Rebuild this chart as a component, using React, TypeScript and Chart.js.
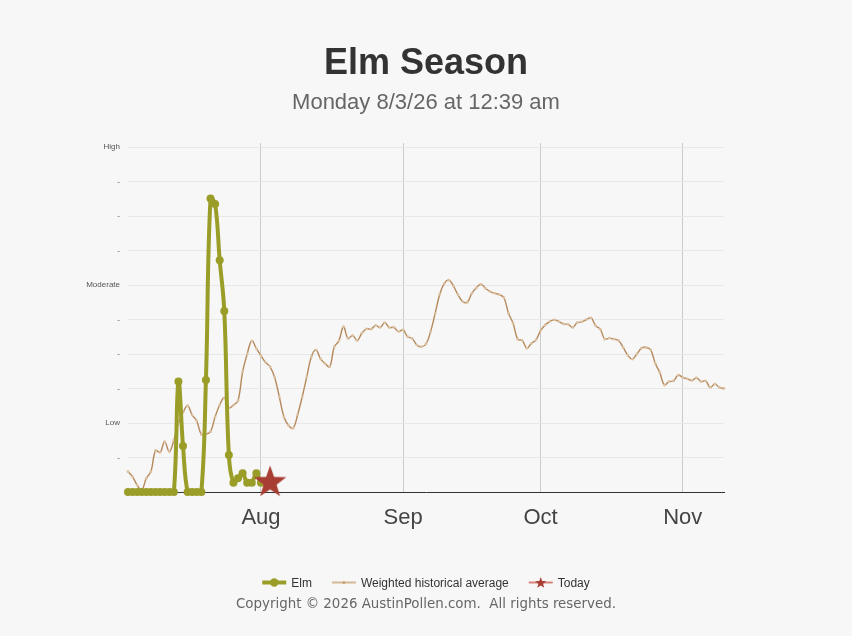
import React, { useEffect, useRef } from 'react';
import { Chart, registerables } from 'chart.js';

Chart.register(...registerables);

// ---------- data ----------
const TITLE = 'Elm Season';
const SUBTITLE = 'Monday 8/3/26 at 12:39 am';
const COPYRIGHT = 'Copyright \u00A9 2026 AustinPollen.com.  All rights reserved.';

const START_YEAR = 2026;
const START_MONTH = 6; // July (0-based)
const START_DAY = 3;
const TODAY_MONTH = 7; // August
const TODAY_DAY = 3;

const MONTH_NAMES = ['Jan', 'Feb', 'Mar', 'Apr', 'May', 'Jun', 'Jul', 'Aug', 'Sep', 'Oct', 'Nov', 'Dec'];
const Y_TICK_LABELS = ['', '-', 'Low', '-', '-', '-', 'Moderate', '-', '-', '-', 'High'];
const LEGEND_LABELS = ['Elm', 'Weighted historical average', 'Today'];

const ELM_VALUES = [
  0, 0, 0, 0, 0, 0, 0, 0, 0, 0, 0,
  3.2, 1.33,
  0, 0, 0, 0,
  3.25, 8.51, 8.35, 6.72, 5.25, 1.07,
  0.27, 0.4, 0.54, 0.27, 0.27, 0.54, 0.27, 0.3, 0.3,
];

const HISTORICAL_VALUES = [
  0.59, 0.44, 0.2, 0.06, 0.4, 0.59, 1.2, 1.15, 1.46, 1.17,
  1.5, 2.0, 2.3, 2.5, 2.23, 2.06, 1.67, 1.68, 1.75, 2.18,
  2.52, 2.73, 2.44, 2.52, 2.65, 3.49, 4.0, 4.38, 4.16, 3.95,
  3.76, 3.63, 3.32, 2.76, 2.18, 1.93, 1.85, 2.24, 2.76, 3.34,
  3.92, 4.12, 3.86, 3.72, 3.63, 4.21, 4.38, 4.79, 4.45, 4.54,
  4.39, 4.6, 4.73, 4.72, 4.83, 4.77, 4.91, 4.77, 4.77, 4.65,
  4.7, 4.5, 4.45, 4.26, 4.21, 4.29, 4.65, 5.18, 5.73, 6.05,
  6.14, 5.97, 5.71, 5.52, 5.5, 5.76, 5.92, 6.02, 5.9, 5.81,
  5.76, 5.72, 5.63, 5.18, 4.89, 4.43, 4.39, 4.17, 4.31, 4.41,
  4.68, 4.84, 4.94, 4.99, 4.94, 4.87, 4.86, 4.77, 4.91, 4.93,
  5.0, 5.05, 4.82, 4.72, 4.43, 4.46, 4.43, 4.39, 4.19, 3.97,
  3.85, 4.0, 4.17, 4.19, 4.12, 3.73, 3.46, 3.1, 3.2, 3.22,
  3.39, 3.32, 3.28, 3.23, 3.31, 3.2, 3.22, 3.03, 3.13, 3.03,
  3.0,
];

// ---------- helpers ----------
const dateAt = (i: number) => new Date(START_YEAR, START_MONTH, START_DAY + i);
const DAY_MS = 24 * 3600 * 1000;
const TODAY_INDEX = Math.round(
  (new Date(START_YEAR, TODAY_MONTH, TODAY_DAY).getTime() - dateAt(0).getTime()) / DAY_MS
);
const MONTH_START_INDICES = HISTORICAL_VALUES.map((_, i) => i).filter((i) => dateAt(i).getDate() === 1);

const ELM_COLOR = '#9a9e28';
const HIST_COLOR = '#b5895c';
const HIST_POINT = '#dcc2a2';
const STAR_COLOR = '#a83d33';
const FONT = '"Liberation Sans", Arial, Helvetica, sans-serif';

function starPath(ctx: CanvasRenderingContext2D, cx: number, cy: number, R: number, r: number) {
  ctx.beginPath();
  for (let k = 0; k < 10; k++) {
    const rad = k % 2 === 0 ? R : r;
    const a = -Math.PI / 2 + (k * Math.PI) / 5;
    const x = cx + rad * Math.cos(a);
    const y = cy + rad * Math.sin(a);
    if (k === 0) ctx.moveTo(x, y);
    else ctx.lineTo(x, y);
  }
  ctx.closePath();
}

function makeStar(R: number, color: string) {
  const size = Math.ceil(R * 2 + 2);
  const c = document.createElement('canvas');
  c.width = size;
  c.height = size;
  const ctx = c.getContext('2d')!;
  ctx.fillStyle = color;
  starPath(ctx, size / 2, size / 2 + R * 0.05, R, R * 0.4);
  ctx.fill();
  return c;
}

const decorPlugin = {
  id: 'decor',
  afterDraw(chart: any) {
    const ctx: CanvasRenderingContext2D = chart.ctx;
    const W = chart.width;
    const cx = W / 2;
    ctx.save();
    ctx.textAlign = 'center';
    ctx.textBaseline = 'alphabetic';
    ctx.fillStyle = '#333333';
    ctx.font = `bold 36px ${FONT}`;
    ctx.fillText(TITLE, cx, 74);
    ctx.fillStyle = '#666666';
    ctx.font = `22px ${FONT}`;
    ctx.fillText(SUBTITLE, cx, 108.5);

    // legend
    ctx.font = `12px ${FONT}`;
    const symW = 24;
    const gapT = 5;
    const gapItem = 20;
    const widths = LEGEND_LABELS.map((t) => symW + gapT + ctx.measureText(t).width);
    const total = widths.reduce((a, b) => a + b, 0) + gapItem * (widths.length - 1);
    let x = cx - total / 2;
    const ly = 582.5;
    LEGEND_LABELS.forEach((label, idx) => {
      ctx.save();
      if (idx === 0) {
        ctx.strokeStyle = ELM_COLOR;
        ctx.lineWidth = 4;
        ctx.beginPath();
        ctx.moveTo(x, ly);
        ctx.lineTo(x + symW, ly);
        ctx.stroke();
        ctx.fillStyle = ELM_COLOR;
        ctx.beginPath();
        ctx.arc(x + symW / 2, ly, 4.2, 0, Math.PI * 2);
        ctx.fill();
      } else if (idx === 1) {
        ctx.strokeStyle = '#d4b894';
        ctx.lineWidth = 2;
        ctx.beginPath();
        ctx.moveTo(x, ly);
        ctx.lineTo(x + symW, ly);
        ctx.stroke();
        ctx.fillStyle = '#caa57c';
        ctx.beginPath();
        ctx.arc(x + symW / 2, ly, 1.6, 0, Math.PI * 2);
        ctx.fill();
      } else {
        ctx.strokeStyle = '#d7857a';
        ctx.lineWidth = 2;
        ctx.beginPath();
        ctx.moveTo(x, ly);
        ctx.lineTo(x + symW, ly);
        ctx.stroke();
        ctx.fillStyle = STAR_COLOR;
        starPath(ctx, x + symW / 2, ly + 0.5, 6, 2.4);
        ctx.fill();
      }
      ctx.restore();
      ctx.fillStyle = '#333333';
      ctx.textAlign = 'left';
      ctx.fillText(label, x + symW + gapT, ly + 4.3);
      x += widths[idx] + gapItem;
    });

    // copyright
    ctx.textAlign = 'center';
    ctx.fillStyle = '#666666';
    ctx.font = '13.4px "DejaVu Sans", Verdana, sans-serif';
    ctx.fillText(COPYRIGHT, cx, 607.5);
    ctx.restore();
  },
};

export default function App() {
  const ref = useRef<HTMLCanvasElement | null>(null);

  useEffect(() => {
    document.body.style.margin = '0';
    document.body.style.background = '#f7f7f7';
    const canvas = ref.current;
    if (!canvas) return;

    const elmPoints = ELM_VALUES.map((v, i) => ({ x: i, y: v }));
    const histPoints = HISTORICAL_VALUES.map((v, i) => ({ x: i, y: v }));
    const todayPoints = [{ x: TODAY_INDEX, y: ELM_VALUES[TODAY_INDEX] }];
    const star = makeStar(17, STAR_COLOR);

    const chart = new Chart(canvas, {
      type: 'line',
      data: {
        datasets: [
          {
            label: LEGEND_LABELS[2],
            data: todayPoints,
            showLine: false,
            pointStyle: star as any,
            pointRadius: 17,
            clip: false as any,
            order: 0,
          },
          {
            label: LEGEND_LABELS[0],
            data: elmPoints,
            borderColor: ELM_COLOR,
            backgroundColor: ELM_COLOR,
            borderWidth: 4,
            pointRadius: 4,
            pointBorderWidth: 0,
            pointBackgroundColor: ELM_COLOR,
            tension: 0.4,
            clip: false as any,
            order: 1,
          },
          {
            label: LEGEND_LABELS[1],
            data: histPoints,
            borderColor: HIST_COLOR,
            backgroundColor: HIST_POINT,
            borderWidth: 1.4,
            pointRadius: 1.4,
            pointBorderWidth: 0,
            pointBackgroundColor: HIST_POINT,
            tension: 0.4,
            clip: false as any,
            order: 2,
          },
        ],
      },
      options: {
        responsive: false,
        animation: false,
        devicePixelRatio: 1,
        layout: { padding: { top: 143, right: 128, left: 0, bottom: 0 } },
        plugins: {
          legend: { display: false },
          title: { display: false },
          tooltip: { enabled: false },
        },
        scales: {
          x: {
            type: 'linear',
            min: 0,
            max: HISTORICAL_VALUES.length - 1,
            afterBuildTicks: (scale: any) => {
              scale.ticks = MONTH_START_INDICES.map((v) => ({ value: v }));
            },
            afterFit: (scale: any) => {
              scale.height = 144;
            },
            ticks: {
              autoSkip: false,
              maxRotation: 0,
              padding: 13,
              color: '#444444',
              font: { family: FONT, size: 22 },
              callback: (v: any) => MONTH_NAMES[dateAt(Number(v)).getMonth()],
            },
            grid: { color: '#cccccc', lineWidth: 1, drawTicks: false },
            border: { display: true, color: '#333333', width: 1 },
          },
          y: {
            type: 'linear',
            min: 0,
            max: 10.116,
            afterBuildTicks: (scale: any) => {
              scale.ticks = Y_TICK_LABELS.map((_, i) => ({ value: i }));
            },
            afterFit: (scale: any) => {
              scale.width = 128;
            },
            ticks: {
              autoSkip: false,
              padding: 8,
              color: '#555555',
              font: { family: FONT, size: 8 },
              callback: (v: any) => Y_TICK_LABELS[Math.round(Number(v))] ?? '',
            },
            grid: {
              drawTicks: false,
              lineWidth: 1,
              color: (c: any) => (c.tick && c.tick.value === 0 ? 'rgba(0,0,0,0)' : '#e8e8e8'),
            },
            border: { display: false },
          },
        },
      },
      plugins: [decorPlugin],
    } as any);

    return () => chart.destroy();
  }, []);

  return (
    <div style={{ width: 852, height: 636, background: '#f7f7f7' }}>
      <canvas ref={ref} width={852} height={636} style={{ display: 'block' }} />
    </div>
  );
}
